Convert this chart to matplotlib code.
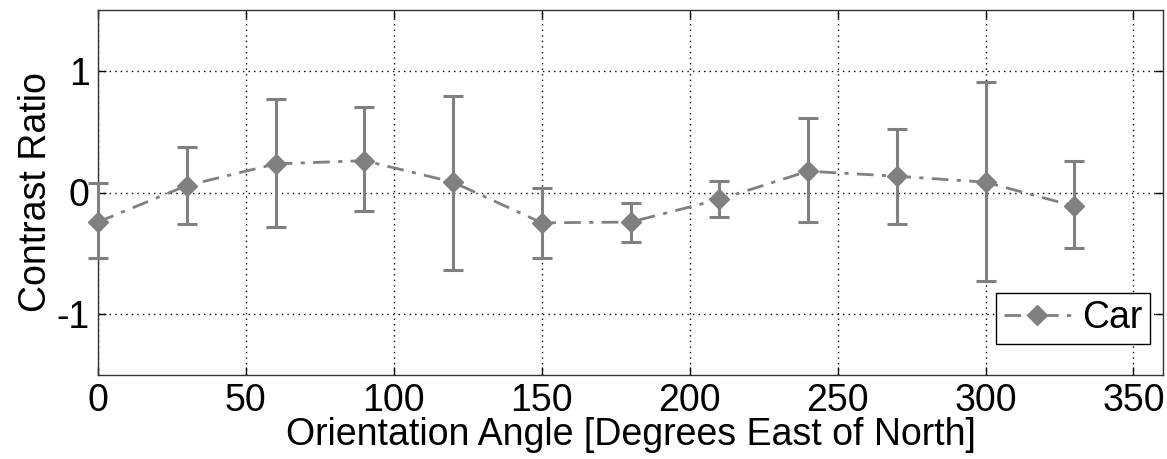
import numpy as np
import matplotlib.pyplot as plt
from matplotlib.lines import Line2D

plt.rcParams['font.family'] = ['Liberation Sans', 'DejaVu Sans']
plt.rcParams['axes.unicode_minus'] = False

angles = [0, 30, 60, 90, 120, 150, 180, 210, 240, 270, 300, 330]
ratio = [-0.243, 0.057, 0.235, 0.262, 0.085, -0.249, -0.243, -0.057, 0.175, 0.134, 0.085, -0.112]
upper = [0.08, 0.37, 0.77, 0.70, 0.795, 0.038, -0.085, 0.098, 0.61, 0.52, 0.907, 0.257]
lower = [-0.54, -0.257, -0.28, -0.148, -0.64, -0.54, -0.41, -0.205, -0.243, -0.257, -0.73, -0.456]

ratio = np.array(ratio)
yerr = [ratio - np.array(lower), np.array(upper) - ratio]

grey = '#808080'
dashdot = (0, (6, 3, 1.5, 3))
fig = plt.figure(figsize=(11.67, 4.59), dpi=100)
ax = fig.add_axes([98/1167, 1 - 375/459, (1163-98)/1167, (375-10)/459])

ax.errorbar(angles, ratio, yerr=yerr, fmt='D', ls=dashdot, color=grey, ms=10, lw=2,
            elinewidth=2.2, capsize=7.5, capthick=2.2, clip_on=False, zorder=3)

ax.set_xlim(0, 360)
ax.set_ylim(-1.5, 1.5)
ax.set_xticks(np.arange(0, 351, 50))
ax.set_yticks([-1, 0, 1])
ax.tick_params(direction='in', top=True, right=True, length=6, width=1, labelsize=27, pad=6)
ax.grid(True, ls=(0, (1, 3)), color='k', lw=1)
for s in ax.spines.values():
    s.set_linewidth(1)
    s.set_color('#333333')

ax.set_xlabel('Orientation Angle [Degrees East of North]', fontsize=27, labelpad=-2)
ax.set_ylabel('Contrast Ratio', fontsize=27, labelpad=2)

handle = Line2D([], [], color=grey, ls=dashdot, lw=2, marker='D', ms=10)
leg = ax.legend([handle], ['Car'], loc='lower right', bbox_to_anchor=(0.988, 0.085),
                fontsize=27, fancybox=False, framealpha=1, edgecolor='k',
                handlelength=1.8, borderpad=0.2, handletextpad=0.3, borderaxespad=0)
leg.get_frame().set_linewidth(1)

fig.savefig('out.png', dpi=100)
